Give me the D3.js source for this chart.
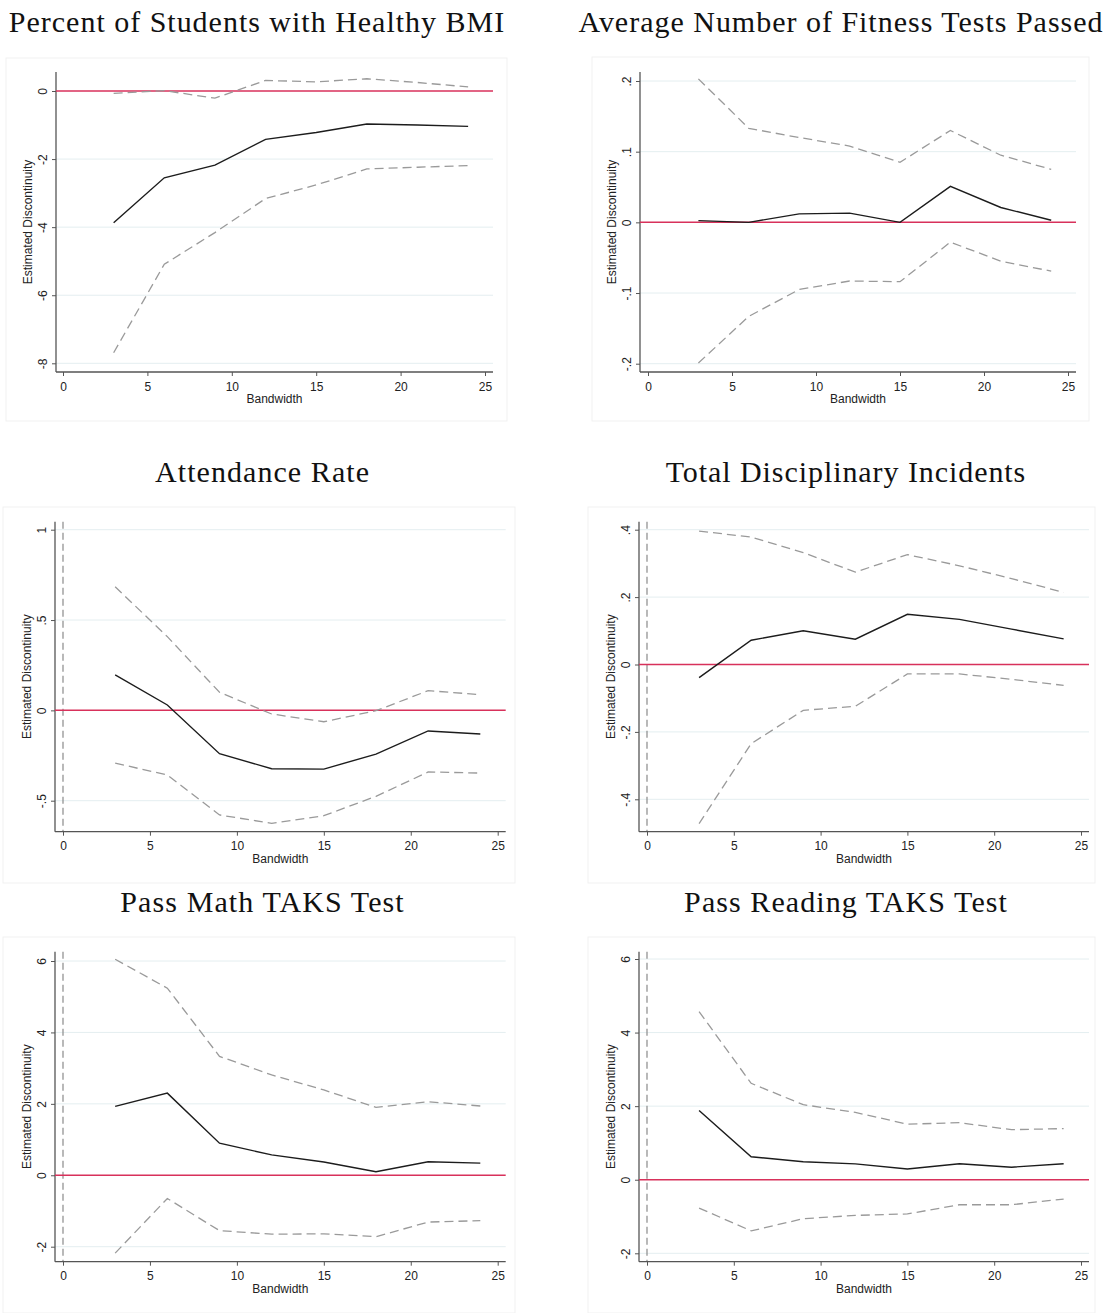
<!DOCTYPE html>
<html>
<head>
<meta charset="utf-8">
<script src="https://cdn.jsdelivr.net/npm/d3@7"></script>
<style>
  body { margin: 0; background: #fff; }
  svg { display: block; }
  .tick text { font-family: "Liberation Sans", Arial, sans-serif; font-size: 12px; fill: #222; }
</style>
</head>
<body>
<div id="chart"></div>
<script>
// bandwidths used in every panel
const bandwidth = [3, 6, 9, 12, 15, 18, 21, 24];
const xTicks = [0, 5, 10, 15, 20, 25];

const titles = [
  "Percent of Students with Healthy BMI",
  "Average Number of Fitness Tests Passed",
  "Attendance Rate",
  "Total Disciplinary Incidents",
  "Pass Math TAKS Test",
  "Pass Reading TAKS Test"
];

// estimate, upper and lower confidence bound
const bmiEst = [-3.87, -2.55, -2.18, -1.42, -1.22, -0.97, -1.00, -1.04];
const bmiHi  = [-0.07, 0.01, -0.21, 0.31, 0.27, 0.36, 0.25, 0.12];
const bmiLo  = [-7.69, -5.09, -4.16, -3.16, -2.76, -2.29, -2.24, -2.19];
const bmiTicks = [0, -2, -4, -6, -8];

const fitEst = [0.0024, 0.0, 0.012, 0.013, 0.0, 0.051, 0.021, 0.003];
const fitHi  = [0.203, 0.133, 0.120, 0.108, 0.085, 0.130, 0.095, 0.075];
const fitLo  = [-0.199, -0.133, -0.095, -0.083, -0.084, -0.028, -0.055, -0.069];
const fitTicks = [0.2, 0.1, 0, -0.1, -0.2];

const attEst = [0.197, 0.030, -0.240, -0.323, -0.325, -0.242, -0.114, -0.131];
const attHi  = [0.684, 0.408, 0.100, -0.020, -0.063, -0.002, 0.109, 0.087];
const attLo  = [-0.292, -0.358, -0.579, -0.625, -0.583, -0.476, -0.341, -0.347];
const attTicks = [1, 0.5, 0, -0.5];

const discEst = [-0.039, 0.072, 0.100, 0.075, 0.149, 0.134, 0.105, 0.076];
const discHi  = [0.396, 0.378, 0.332, 0.274, 0.326, 0.293, 0.255, 0.214];
const discLo  = [-0.472, -0.235, -0.136, -0.124, -0.028, -0.028, -0.044, -0.062];
const discTicks = [0.4, 0.2, 0, -0.2, -0.4];

const mathEst = [1.93, 2.30, 0.90, 0.57, 0.37, 0.10, 0.38, 0.34];
const mathHi  = [6.05, 5.24, 3.33, 2.81, 2.39, 1.90, 2.06, 1.94];
const mathLo  = [-2.18, -0.65, -1.55, -1.65, -1.64, -1.72, -1.31, -1.27];
const mathTicks = [6, 4, 2, 0, -2];

const readEst = [1.88, 0.625, 0.49, 0.43, 0.29, 0.435, 0.34, 0.435];
const readHi  = [4.57, 2.62, 2.04, 1.83, 1.51, 1.55, 1.36, 1.39];
const readLo  = [-0.77, -1.39, -1.06, -0.97, -0.93, -0.68, -0.68, -0.525];
const readTicks = [6, 4, 2, 0, -2];

const panels = [
  { est: bmiEst, hi: bmiHi, lo: bmiLo, ticks: bmiTicks, vzero: false },
  { est: fitEst, hi: fitHi, lo: fitLo, ticks: fitTicks, vzero: false },
  { est: attEst, hi: attHi, lo: attLo, ticks: attTicks, vzero: true },
  { est: discEst, hi: discHi, lo: discLo, ticks: discTicks, vzero: true },
  { est: mathEst, hi: mathHi, lo: mathLo, ticks: mathTicks, vzero: true },
  { est: readEst, hi: readHi, lo: readLo, ticks: readTicks, vzero: true }
];

// pixel layout of each panel (box, title, plot region, scale anchors)
const layout = [
  { box: [6, 58, 507, 421],    tx: 256.5, ty: 32,  ax: 56,  x0: 63,  x1: 485,  right: 493,  top: 72,    bottom: 372,    yr: [91, 363.3] },
  { box: [592, 57, 1089, 421], tx: 840.5, ty: 32,  ax: 640, x0: 648, x1: 1068, right: 1076, top: 72,    bottom: 372,    yr: [81, 363.7] },
  { box: [3, 507, 515, 883],   tx: 262,   ty: 482, ax: 55,  x0: 63,  x1: 497.7, right: 505.7, top: 521.7, bottom: 831.7, yr: [529.7, 800.7] },
  { box: [588, 507, 1095, 883], tx: 845.5, ty: 482, ax: 639, x0: 647, x1: 1081, right: 1089, top: 521.7, bottom: 831.7, yr: [529.7, 799.3] },
  { box: [3, 937, 515, 1313],  tx: 262,   ty: 912, ax: 55,  x0: 63,  x1: 497.7, right: 505.7, top: 951.7, bottom: 1261.7, yr: [961, 1246.7] },
  { box: [588, 937, 1095, 1313], tx: 845.5, ty: 912, ax: 639, x0: 647, x1: 1081, right: 1089, top: 951.7, bottom: 1261.7, yr: [959, 1253.3] }
];

const svg = d3.select("#chart").append("svg")
  .attr("width", 1104)
  .attr("height", 1313);

// stata style labels: .2, -.1 etc
const fmt = d => d === 0 ? "0" : String(d).replace("0.", ".");

panels.forEach((p, i) => {
  const L = layout[i];

  // faint graph region border
  svg.append("rect")
    .attr("x", L.box[0]).attr("y", L.box[1])
    .attr("width", L.box[2] - L.box[0]).attr("height", L.box[3] - L.box[1])
    .attr("fill", "#fff").attr("stroke", "#f1f1f1").attr("stroke-width", 1);

  const t = svg.append("text")
    .attr("x", L.tx).attr("y", L.ty)
    .attr("text-anchor", "middle")
    .style("font-family", "'Liberation Serif', 'Times New Roman', serif")
    .style("font-size", "30px")
    .attr("fill", "#111")
    .text(titles[i]);
  // the original uses a wider LaTeX font, so open up the spacing a bit
  const w = t.node().getComputedTextLength();
  t.attr("textLength", w * 1.075).attr("lengthAdjust", "spacing");

  const x = d3.scaleLinear().domain([0, 25]).range([L.x0, L.x1]);
  const y = d3.scaleLinear()
    .domain([p.ticks[0], p.ticks[p.ticks.length - 1]])
    .range(L.yr);

  const g = svg.append("g");

  // gridlines
  g.selectAll(".grid").data(p.ticks.filter(t => t !== 0)).join("line")
    .attr("x1", L.ax).attr("x2", L.right)
    .attr("y1", d => y(d)).attr("y2", d => y(d))
    .attr("stroke", "#e4eef0").attr("stroke-width", 1);

  // vertical dashed line at 0 bandwidth
  if (p.vzero) {
    g.append("line")
      .attr("x1", x(0)).attr("x2", x(0))
      .attr("y1", L.top).attr("y2", L.bottom)
      .attr("stroke", "#8a8a8a").attr("stroke-width", 1.2)
      .attr("stroke-dasharray", "7,4");
  }

  // y axis
  const yAxis = g.append("g")
    .attr("transform", `translate(${L.ax},0)`)
    .call(d3.axisLeft(y).tickValues(p.ticks).tickFormat(fmt).tickSize(4).tickSizeOuter(0));
  yAxis.select(".domain").remove();
  yAxis.selectAll(".tick line").attr("stroke", "#555");
  yAxis.selectAll(".tick text")
    .attr("x", null).attr("dy", null)
    .attr("text-anchor", "middle")
    .attr("transform", "translate(-9,0) rotate(-90)");

  // x axis
  const xAxis = g.append("g")
    .attr("transform", `translate(0,${L.bottom})`)
    .call(d3.axisBottom(x).tickValues(xTicks).tickSize(4).tickPadding(6).tickSizeOuter(0));
  xAxis.select(".domain").remove();
  xAxis.selectAll(".tick line").attr("stroke", "#555");

  // axis lines
  g.append("line")
    .attr("x1", L.ax).attr("x2", L.ax).attr("y1", L.top).attr("y2", L.bottom)
    .attr("stroke", "#555").attr("stroke-width", 1.3);
  g.append("line")
    .attr("x1", L.ax).attr("x2", L.right).attr("y1", L.bottom).attr("y2", L.bottom)
    .attr("stroke", "#555").attr("stroke-width", 1.3);

  // red zero line
  g.append("line")
    .attr("x1", L.ax).attr("x2", L.right)
    .attr("y1", y(0)).attr("y2", y(0))
    .attr("stroke", "#d8315b").attr("stroke-width", 1.5);

  const line = d3.line()
    .x((d, j) => x(bandwidth[j]))
    .y(d => y(d));

  [p.hi, p.lo].forEach(s => {
    g.append("path")
      .datum(s)
      .attr("fill", "none")
      .attr("stroke", "#9a9a9a")
      .attr("stroke-width", 1.3)
      .attr("stroke-dasharray", "9,5")
      .attr("d", line);
  });

  g.append("path")
    .datum(p.est)
    .attr("fill", "none")
    .attr("stroke", "#1c1c1c")
    .attr("stroke-width", 1.4)
    .attr("d", line);

  // axis titles
  g.append("text")
    .attr("x", (L.ax + L.right) / 2).attr("y", L.bottom + 31)
    .attr("text-anchor", "middle")
    .style("font-family", "'Liberation Sans', Arial, sans-serif")
    .style("font-size", "12px").attr("fill", "#222")
    .text("Bandwidth");

  g.append("text")
    .attr("transform", `translate(${L.ax - 24},${(L.top + L.bottom) / 2}) rotate(-90)`)
    .attr("text-anchor", "middle")
    .style("font-family", "'Liberation Sans', Arial, sans-serif")
    .style("font-size", "12px").attr("fill", "#222")
    .text("Estimated Discontinuity");
});
</script>
</body>
</html>
